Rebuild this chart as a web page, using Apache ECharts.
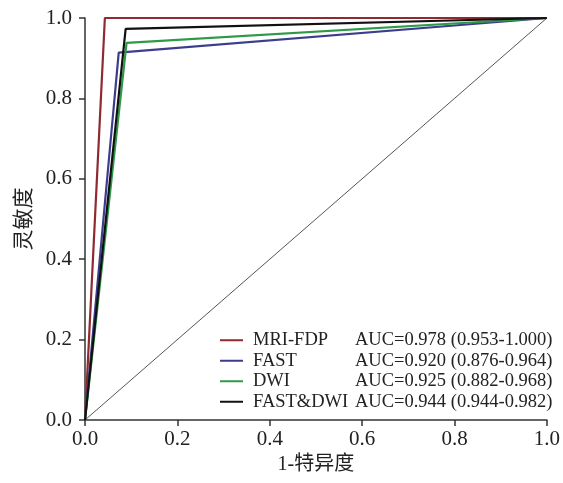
<!DOCTYPE html>
<html><head><meta charset="utf-8">
<script src="https://cdn.jsdelivr.net/npm/echarts@6/dist/echarts.min.js"></script>
<style>html,body{margin:0;padding:0;background:#fff}#c{width:563px;height:483px}</style>
</head><body><div id="c"></div>
<script>
const seriesNames = ['MRI-FDP', 'FAST', 'DWI', 'FAST&DWI'];
const aucLabels = ['AUC=0.978 (0.953-1.000)', 'AUC=0.920 (0.876-0.964)', 'AUC=0.925 (0.882-0.968)', 'AUC=0.944 (0.944-0.982)'];
const fprMRI = [0, 0.043, 1]; const tprMRI = [0, 1.0, 1];
const fprFAST = [0, 0.073, 1]; const tprFAST = [0, 0.914, 1];
const fprDWI = [0, 0.09, 1]; const tprDWI = [0, 0.938, 1];
const fprBoth = [0, 0.088, 1]; const tprBoth = [0, 0.973, 1];
const refX = [0, 1]; const refY = [0, 1];
const tickLabels = ['0.0', '0.2', '0.4', '0.6', '0.8', '1.0'];
const colors = ['#8e2a30', '#3d3d8f', '#2e9a48', '#111111'];

const pairs = (xs, ys) => xs.map((x, i) => [x, ys[i]]);
const curves = [pairs(fprMRI, tprMRI), pairs(fprFAST, tprFAST), pairs(fprDWI, tprDWI), pairs(fprBoth, tprBoth)];
const font = "'Liberation Serif', 'Noto Sans CJK SC', serif";

const chart = echarts.init(document.getElementById('c'), null, {renderer: 'canvas'});
const series = [{
  type: 'line', name: 'ref', data: pairs(refX, refY), showSymbol: false, symbol: 'none',
  lineStyle: {color: '#555', width: 1}, silent: true, z: 1
}];
curves.forEach((d, i) => series.push({
  type: 'line', name: seriesNames[i], data: d, symbol: 'none', showSymbol: false, clip: false,
  lineStyle: {color: colors[i], width: 2.2}, itemStyle: {color: colors[i]}, z: 2 + i
}));

chart.setOption({
  animation: false,
  grid: {left: 85, right: 15, top: 18, bottom: 63},
  xAxis: {
    type: 'value', min: 0, max: 1, interval: 0.2,
    name: '1-特异度', nameLocation: 'middle', nameGap: 31,
    nameTextStyle: {fontFamily: font, fontSize: 20, color: '#222'},
    axisLine: {lineStyle: {color: '#333', width: 1.5}},
    axisTick: {show: true, length: 6, lineStyle: {color: '#333', width: 1.5}},
    axisLabel: {fontFamily: font, fontSize: 21, color: '#222', margin: 9,
      formatter: v => tickLabels[Math.round(v * 5)]},
    splitLine: {show: false}
  },
  yAxis: {
    type: 'value', min: 0, max: 1, interval: 0.2,
    name: '灵敏度', nameLocation: 'middle', nameGap: 50, nameRotate: 90,
    nameTextStyle: {fontFamily: font, fontSize: 21, color: '#222'},
    axisLine: {show: true, lineStyle: {color: '#333', width: 1.5}},
    axisTick: {show: true, length: 6, lineStyle: {color: '#333', width: 1.5}},
    axisLabel: {fontFamily: font, fontSize: 21, color: '#222', margin: 13,
      formatter: v => tickLabels[Math.round(v * 5)]},
    splitLine: {show: false}
  },
  legend: {
    data: seriesNames, orient: 'vertical', left: 220, top: 330,
    icon: 'rect', itemWidth: 23, itemHeight: 2, itemGap: 0, padding: 0,
    formatter: name => '{n|' + name + '}{a|' + aucLabels[seriesNames.indexOf(name)] + '}',
    textStyle: {fontFamily: font, fontSize: 18.5, color: '#222', lineHeight: 20.5,
      rich: {n: {width: 102, padding: [0, 0, 0, 5], fontFamily: font, fontSize: 18.5, color: '#222', lineHeight: 20.5},
             a: {fontFamily: font, fontSize: 18.5, color: '#222', lineHeight: 20.5}}}
  },
  series: series
});
</script></body></html>
